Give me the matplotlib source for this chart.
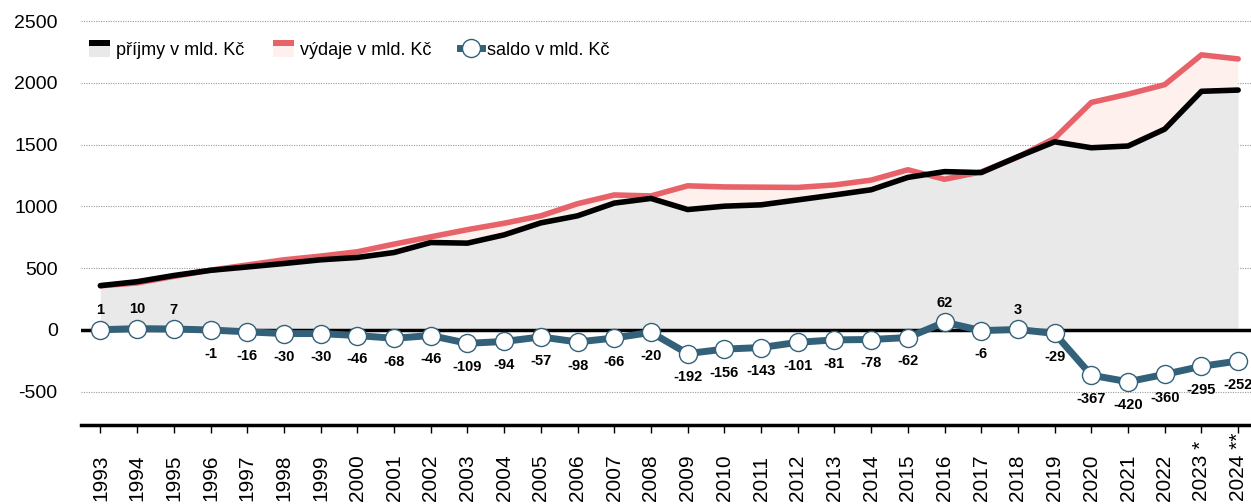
import matplotlib
matplotlib.use('Agg')
import matplotlib.pyplot as plt
from matplotlib.legend_handler import HandlerBase
from matplotlib.patches import Rectangle
from matplotlib.lines import Line2D

years = list(range(1993, 2025))
year_labels = [str(y) for y in years[:-2]] + ['2023 *', '2024 **']

prijmy = [358, 390, 440, 482, 509, 537, 567, 586, 626, 707, 702, 769, 866, 923,
          1026, 1064, 974, 1001, 1012, 1052, 1092, 1134, 1234, 1281, 1273, 1402,
          1522, 1474, 1488, 1625, 1931, 1941]
vydaje = [357, 380, 433, 483, 525, 567, 597, 632, 694, 753, 811, 863, 923, 1021,
          1092, 1084, 1166, 1157, 1155, 1153, 1173, 1212, 1296, 1219, 1279, 1399,
          1551, 1841, 1908, 1985, 2226, 2193]
saldo = [1, 10, 7, -1, -16, -30, -30, -46, -68, -46, -109, -94, -57, -98, -66, -20,
         -192, -156, -143, -101, -81, -78, -62, 62, -6, 3, -29, -367, -420, -360,
         -295, -252]

BLACK = '#000000'
GRAY_FILL = '#e9e9e9'
RED = '#e8626a'
PINK_FILL = '#fdf0ed'
TEAL = '#33617a'

plt.rcParams['font.family'] = ['Liberation Sans', 'DejaVu Sans']


class TwoTone(HandlerBase):
    def __init__(self, top, bottom):
        super().__init__()
        self.top = top
        self.bottom = bottom

    def create_artists(self, legend, orig_handle, xdescent, ydescent, width,
                       height, fontsize, trans):
        h = height * 1.3
        y0 = -ydescent - 0.15 * height
        r1 = Rectangle((-xdescent, y0), width, h * 0.62, facecolor=self.bottom,
                       edgecolor='none', transform=trans)
        r2 = Rectangle((-xdescent, y0 + h * 0.62), width, h * 0.38,
                       facecolor=self.top, edgecolor='none', transform=trans)
        return [r1, r2]


fig = plt.figure(figsize=(12.51, 5.04), dpi=100)
ax = fig.add_axes([0.065, 0.157, 0.935, 0.843])

ax.fill_between(years, 0, prijmy, color=GRAY_FILL, lw=0, zorder=1)
ax.fill_between(years, prijmy, vydaje, where=[v > p for p, v in zip(prijmy, vydaje)],
                interpolate=True, color=PINK_FILL, lw=0, zorder=1)
ax.plot(years, vydaje, color=RED, lw=4, zorder=3, solid_capstyle='round')
ax.plot(years, prijmy, color=BLACK, lw=4, zorder=4, solid_capstyle='round')
ax.axhline(0, color='black', lw=2.5, zorder=2)
ax.plot(years, saldo, color=TEAL, lw=5, marker='o', ms=13, mfc='white',
        mec=TEAL, mew=1, zorder=5)

for yr, v in zip(years, saldo):
    if v > 0:
        ax.annotate(str(v), (yr, v), xytext=(0, 9), textcoords='offset points',
                    ha='center', va='bottom', fontsize=10.5, fontweight='bold',
                    zorder=6)
    else:
        ax.annotate(str(v), (yr, v), xytext=(0, -12), textcoords='offset points',
                    ha='center', va='top', fontsize=10.5, fontweight='bold',
                    zorder=6)

ax.set_xlim(1992.48, 2024.35)
ax.set_ylim(-769, 2670)
ax.set_yticks([-500, 0, 500, 1000, 1500, 2000, 2500])
ax.set_yticklabels(['-500', '0', '500', '1000', '1500', '2000', '2500'])
for gv in [-500, 500, 1000, 1500, 2000, 2500]:
    ax.axhline(gv, color='#9a9a9a', lw=0.8, ls=(0, (1, 1.2)), zorder=0)
ax.tick_params(axis='y', length=0, pad=17, labelsize=14)

ax.set_xticks(years)
ax.set_xticklabels(year_labels, rotation=90)
ax.tick_params(axis='x', length=6, width=1, pad=49, labelsize=15, direction='out')
for lab in ax.get_xticklabels():
    lab.set_va('bottom')

for s in ['top', 'right', 'left']:
    ax.spines[s].set_visible(False)
ax.spines['bottom'].set_linewidth(2.5)

h_prijmy = Rectangle((0, 0), 1, 1)
h_vydaje = Rectangle((0, 0), 1, 1)
h_saldo = Line2D([], [], color=TEAL, lw=5, marker='o', ms=13, mfc='white',
                 mec=TEAL, mew=1)
leg = ax.legend([h_prijmy, h_vydaje, h_saldo],
                ['příjmy v mld. Kč', 'výdaje v mld. Kč', 'saldo v mld. Kč'],
                handler_map={h_prijmy: TwoTone(BLACK, GRAY_FILL),
                             h_vydaje: TwoTone(RED, PINK_FILL)},
                loc='center left', bbox_to_anchor=(0.0, 0.882), ncol=3,
                frameon=False, handlelength=1.2, handletextpad=0.3,
                columnspacing=1.6, borderaxespad=0,
                prop={'size': 13})

fig.savefig('out.png', dpi=100)
